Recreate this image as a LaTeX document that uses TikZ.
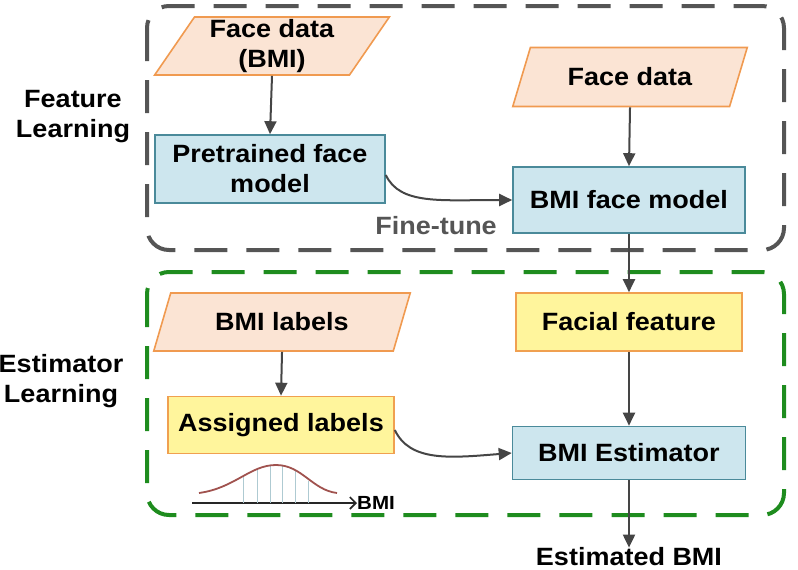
\documentclass[tikz,border=0pt]{standalone}
\usepackage{fontspec}
\setmainfont[FakeStretch=1.08]{Liberation Sans}
\usetikzlibrary{shapes.geometric,arrows.meta,calc}
\definecolor{peachfill}{HTML}{FBE4D4}
\definecolor{peachline}{HTML}{F09A50}
\definecolor{bluefill}{HTML}{CDE6EE}
\definecolor{blueline}{HTML}{4A8A9A}
\definecolor{yellowfill}{HTML}{FFF59C}
\definecolor{yellowline}{HTML}{F0A050}
\definecolor{framegray}{HTML}{555555}
\definecolor{framegreen}{HTML}{1E8C1E}
\definecolor{arrowgray}{HTML}{454545}
\definecolor{curvebrown}{HTML}{A0524E}
\begin{document}
\begin{tikzpicture}[x=1pt,y=-1pt,
  every node/.style={font=\fontsize{25}{30}\selectfont\bfseries, align=center, inner sep=0pt},
  databox/.style={trapezium, trapezium stretches=true, draw=peachline, fill=peachfill, line width=1.6pt},
  modelbox/.style={rectangle, draw=blueline, fill=bluefill, line width=1.6pt},
  featbox/.style={rectangle, draw=yellowline, fill=yellowfill, line width=1.6pt},
  flow/.style={draw=arrowgray, line width=2pt, -{Triangle[length=13pt,width=12pt]}},
  frame/.style={line width=4pt, dash pattern=on 33pt off 19pt, rounded corners=22pt}
]
\useasboundingbox (0,0) rectangle (798,570);

% section frames
\draw[frame, draw=framegray] (147,6) rectangle (784,250);
\draw[frame, draw=framegreen] (147,272) rectangle (784,515);

% section titles
\node (tfeat) at (73,117) {Feature\\Learning};
\node (test) at (61,381) {Estimator\\Learning};

% feature learning
\node[databox, trapezium left angle=59, trapezium right angle=121, minimum width=235, minimum height=58] (fdb) at (272,46) {Face data\\(BMI)};
\node[modelbox, minimum width=230, minimum height=68] (pfm) at (270,169) {Pretrained face\\model};
\node[databox, trapezium left angle=59, trapezium right angle=121, minimum width=235, minimum height=59] (fd) at (630,77) {Face data};
\node[modelbox, minimum width=232, minimum height=66] (bfm) at (629,200) {BMI face model};
\node[text=framegray] (ft) at (436,226) {Fine-tune};

% estimator learning
\node[databox, trapezium left angle=61, trapezium right angle=119, minimum width=257, minimum height=58] (bl) at (282,322) {BMI labels};
\node[featbox, minimum width=226, minimum height=57] (al) at (281,425) {Assigned labels};
\node[featbox, minimum width=226, minimum height=58] (ff) at (629,322) {Facial feature};
\node[modelbox, minimum width=233, minimum height=53] (be) at (629,453) {BMI Estimator};
\node (eb) at (629,557) {Estimated BMI};

% label distribution sketch
\coordinate (ax0) at (192,503);
\node[font=\fontsize{19}{22}\selectfont\bfseries, anchor=west] (bmi) at (357,503) {BMI};
\draw[line width=1.6pt, black!85, -{Straight Barb[length=6pt,width=12pt]}] (ax0) -- (bmi.west);
\foreach \x/\y in {243/477, 257/470, 270/466, 282/466, 295/471, 308/481}
  \draw[line width=1pt, blueline!45] (\x,503) -- (\x,\y);
\draw[line width=1.8pt, curvebrown] (199,493) .. controls (235,488) and (250,465) .. (276,465)
  .. controls (302,465) and (312,490) .. (337,493);

% connectors
\draw[flow] (fdb.south) -- (pfm.north);
\draw[flow] (fd.south) -- (bfm.north);
\draw[flow] (pfm.east) ++(0,6) coordinate (pfmout) (pfmout) .. controls (400,205) and (440,200) .. (bfm.west);
\draw[flow] (bfm.south) -- (ff.north);
\draw[flow] (bl.south) -- (al.north);
\draw[flow] (ff.south) -- (be.north);
\draw[flow] (al.east) ++(0,5) coordinate (alout) (alout) .. controls (410,462) and (450,458) .. (be.west);
\draw[flow] (be.south) -- (eb.north);
\end{tikzpicture}
\end{document}
